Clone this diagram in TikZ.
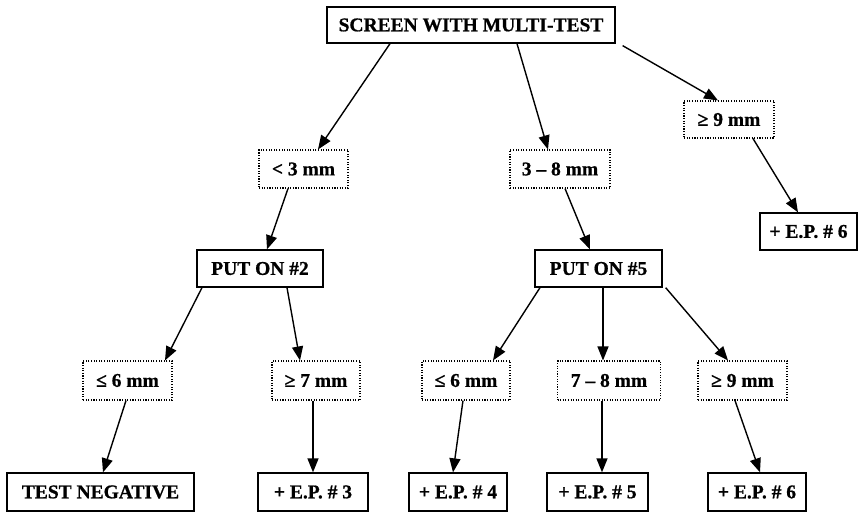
\documentclass[tikz,border=0pt]{standalone}
\usepackage{fontspec}
\setmainfont{Liberation Serif}[BoldFeatures={FakeBold=0.8}]
\usetikzlibrary{arrows.meta}
\tikzset{
  base/.style={inner sep=0pt, font=\fontsize{19.5}{22}\selectfont\bfseries, text=black},
  solidbox/.style={base, draw, line width=1.3pt},
  dotbox/.style={base, draw, line width=1.1pt, dash pattern=on 1.1pt off 1.5pt},
  link/.style={line width=1.4pt, -{Triangle[length=14pt,width=11pt]}},
}
\begin{document}
\begin{tikzpicture}[x=1pt,y=-1pt]
\useasboundingbox (0,0) rectangle (860,514);

% decision tree nodes
\node[solidbox, minimum width=288pt, minimum height=36pt] (top) at (471,25) {SCREEN WITH MULTI-TEST};

\node[dotbox, minimum width=89pt, minimum height=38pt] (lt3) at (303.5,169) {< 3 mm};
\node[dotbox, minimum width=100pt, minimum height=38pt] (r38) at (560,169) {3 – 8 mm};
\node[dotbox, minimum width=90pt, minimum height=37pt] (ge9a) at (729,119.5) {≥ 9 mm};
\node[solidbox, minimum width=97pt, minimum height=37pt] (ep6a) at (808.5,231.5) {+ E.P. \# 6};

\node[solidbox, minimum width=126pt, minimum height=37pt] (put2) at (260,268.5) {PUT ON \#2};
\node[solidbox, minimum width=127pt, minimum height=37pt] (put5) at (598.5,268.5) {PUT ON \#5};

\node[dotbox, minimum width=89pt, minimum height=39pt] (le6a) at (127.5,380.5) {≤ 6 mm};
\node[dotbox, minimum width=88pt, minimum height=39pt] (ge7) at (316,380.5) {≥ 7 mm};
\node[dotbox, minimum width=88pt, minimum height=39pt] (le6b) at (466,380.5) {≤ 6 mm};
\node[dotbox, minimum width=103pt, minimum height=39pt] (r78) at (609,380.5) {7 – 8 mm};
\node[dotbox, minimum width=89pt, minimum height=39pt] (ge9b) at (742.5,380.5) {≥ 9 mm};

\node[solidbox, minimum width=187pt, minimum height=38pt] (neg) at (100.5,492) {TEST NEGATIVE};
\node[solidbox, minimum width=110pt, minimum height=38pt] (ep3) at (313,492) {+ E.P. \# 3};
\node[solidbox, minimum width=98pt, minimum height=38pt] (ep4) at (458,492) {+ E.P. \# 4};
\node[solidbox, minimum width=101pt, minimum height=38pt] (ep5) at (597.5,492) {+ E.P. \# 5};
\node[solidbox, minimum width=98pt, minimum height=38pt] (ep6b) at (757,492) {+ E.P. \# 6};

% connectors
\draw[link] ([xshift=-81pt]top.south) -- ([xshift=14.5pt]lt3.north);
\draw[link] ([xshift=46pt]top.south) -- ([xshift=-12pt]r38.north);
\draw[link] ([xshift=7pt,yshift=-2pt]top.south east) -- ([xshift=-11pt]ge9a.north);
\draw[link] ([xshift=24pt]ge9a.south) -- ([xshift=-10.5pt]ep6a.north);

\draw[link] ([xshift=-15.5pt]lt3.south) -- ([xshift=7pt]put2.north);
\draw[link] ([xshift=5pt]r38.south) -- ([xshift=-8.5pt]put5.north);

\draw[link] ([xshift=-58pt]put2.south) -- ([xshift=37.5pt]le6a.north);
\draw[link] ([xshift=27pt]put2.south) -- ([xshift=-16pt]ge7.north);
\draw[link] ([xshift=-58.5pt]put5.south) -- ([xshift=27pt]le6b.north);
\draw[link] ([xshift=4.5pt]put5.south) -- ([xshift=-6pt]r78.north);
\draw[link] ([xshift=3pt]put5.south east) -- ([xshift=-14.5pt]ge9b.north);

\draw[link] ([xshift=-1.5pt]le6a.south) -- ([xshift=2.5pt]neg.north);
\draw[link] ([xshift=-3pt]ge7.south) -- (ep3.north);
\draw[link] ([xshift=-3pt]le6b.south) -- ([xshift=-5pt]ep4.north);
\draw[link] ([xshift=-7pt]r78.south) -- ([xshift=4.5pt]ep5.north);
\draw[link] ([xshift=-7.5pt]ge9b.south) -- ([xshift=3pt]ep6b.north);
\end{tikzpicture}
\end{document}
